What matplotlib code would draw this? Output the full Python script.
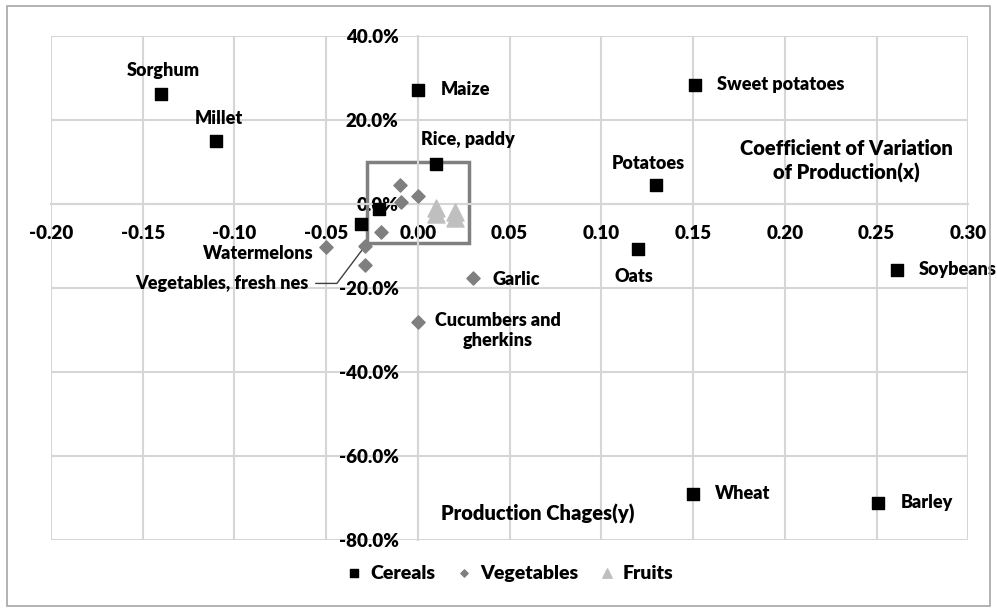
import matplotlib
matplotlib.use('Agg')
import matplotlib.pyplot as plt
from matplotlib.patches import Rectangle
from matplotlib.ticker import PercentFormatter, FormatStrFormatter

plt.rcParams['font.family'] = ['Lato', 'DejaVu Sans']
plt.rcParams['font.weight'] = 'heavy'
plt.rcParams['axes.unicode_minus'] = False

# coefficient of variation (x) vs production change (y)
cereal_names = ['Sorghum', 'Millet', 'Maize', 'Sweet potatoes', 'Rice, paddy', 'Potatoes',
                'Oats', 'Soybeans', 'Wheat', 'Barley', '', '']
cereal_x = [-0.140, -0.110, 0.000, 0.151, 0.010, 0.130, 0.120, 0.261, 0.150, 0.251, -0.021, -0.031]
cereal_y = [0.261, 0.150, 0.272, 0.284, 0.095, 0.045, -0.107, -0.157, -0.690, -0.711, -0.012, -0.048]

veg_names = ['', '', '', '', 'Watermelons', 'Vegetables, fresh nes', '', 'Garlic',
             'Cucumbers and\ngherkins']
veg_x = [-0.010, 0.000, -0.009, -0.020, -0.050, -0.029, -0.029, 0.030, 0.000]
veg_y = [0.045, 0.019, 0.005, -0.067, -0.103, -0.101, -0.145, -0.176, -0.280]

fruit_x = [0.010, 0.010, 0.020, 0.020]
fruit_y = [-0.010, -0.024, -0.018, -0.034]

x_ticks = [-0.20, -0.15, -0.10, -0.05, 0.00, 0.05, 0.10, 0.15, 0.20, 0.25, 0.30]
y_ticks = [-0.8, -0.6, -0.4, -0.2, 0.0, 0.2, 0.4]

# label offsets in pixels from the point, plus alignment
label_style = {
    'Sorghum': (2, 24, 'center'),
    'Millet': (3, 22, 'center'),
    'Maize': (23, 0, 'left'),
    'Sweet potatoes': (22, 0, 'left'),
    'Rice, paddy': (32, 25, 'center'),
    'Potatoes': (-8, 22, 'center'),
    'Oats': (-4, -28, 'center'),
    'Soybeans': (22, 0, 'left'),
    'Wheat': (22, 0, 'left'),
    'Barley': (22, 0, 'left'),
    'Watermelons': (-13, -6, 'right'),
    'Garlic': (20, -2, 'left'),
    'Cucumbers and\ngherkins': (80, -9, 'center'),
}

fig = plt.figure(figsize=(9.97, 6.12), dpi=100)
ax = fig.add_axes([0.0512, 0.1176, 0.92, 0.8236])
ax.set_xlim(-0.2, 0.3)
ax.set_ylim(-0.8, 0.4)
ax.set_xticks(x_ticks)
ax.set_yticks(y_ticks)
ax.xaxis.set_major_formatter(FormatStrFormatter('%.2f'))
ax.yaxis.set_major_formatter(PercentFormatter(xmax=1, decimals=1))
ax.grid(True, color='#d6d6d6', linewidth=1.5, zorder=0)
ax.set_axisbelow(True)
for s in ['top', 'right']:
    ax.spines[s].set_visible(False)
ax.spines['left'].set_position(('data', 0))
ax.spines['bottom'].set_position(('data', 0))
for s in ['left', 'bottom']:
    ax.spines[s].set_color('#d6d6d6')
    ax.spines[s].set_linewidth(1.5)
ax.tick_params(axis='both', length=0, labelsize=13.5, colors='black')
ax.tick_params(axis='y', pad=14)
ax.tick_params(axis='x', pad=15)

# highlight box round the cluster near the origin
ax.add_patch(Rectangle((-0.028, -0.094), 0.056, 0.195, fill=False,
                       edgecolor='#808080', linewidth=2.5, zorder=2))

ax.scatter(fruit_x, fruit_y, marker='^', s=150, color='#bfbfbf', zorder=3, label='Fruits')
ax.scatter(veg_x, veg_y, marker='D', s=45, color='#7f7f7f', zorder=4, label='Vegetables')
ax.scatter(cereal_x, cereal_y, marker='s', s=85, color='black', zorder=5, label='Cereals')

for names, xs, ys in [(cereal_names, cereal_x, cereal_y), (veg_names, veg_x, veg_y)]:
    for n, x, y in zip(names, xs, ys):
        if n in label_style:
            dx, dy, ha = label_style[n]
            ax.annotate(n, (x, y), xytext=(dx, dy), textcoords='offset pixels',
                        ha=ha, va='center', fontsize=13, zorder=6, multialignment='center')

# leader line label
i = veg_names.index('Vegetables, fresh nes')
ax.annotate('Vegetables, fresh nes', (veg_x[i], veg_y[i]), xytext=(-56, -37),
            textcoords='offset pixels', ha='right', va='center', fontsize=13,
            arrowprops=dict(arrowstyle='-', color='#404040', lw=1,
                            connectionstyle='angle,angleA=0,angleB=53,rad=0',
                            relpos=(1, 0.5), shrinkA=3, shrinkB=2))

ax.text(0.2334, 0.102, 'Coefficient of Variation\nof Production(x)', ha='center',
        va='center', fontsize=14.5, linespacing=1.3)
ax.text(0.0125, -0.738, 'Production Chages(y)', ha='left', va='center', fontsize=14.5)

h, l = ax.get_legend_handles_labels()
order = [2, 1, 0]
fig.legend([h[k] for k in order], [l[k] for k in order], loc='center',
           bbox_to_anchor=(0.5115, 0.0637), ncol=3, frameon=False, fontsize=14,
           markerscale=0.55, handlelength=0.8, handletextpad=0.4, columnspacing=1.1)

fig.add_artist(Rectangle((7 / 997, 6 / 612), 983 / 997, 600 / 612, fill=False,
                         edgecolor='#a6a6a6', linewidth=1.2, transform=fig.transFigure))

fig.savefig('out.png', dpi=100)
